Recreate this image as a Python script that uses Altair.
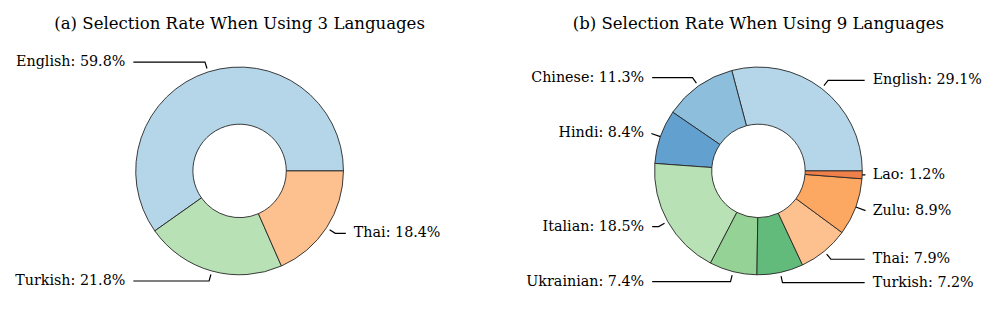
import altair as alt
import pandas as pd
import numpy as np

# ---- data ----
langs_a = ["English", "Turkish", "Thai"]
vals_a = [59.8, 21.8, 18.4]
colors_a = ["#b4d6e8", "#b8e2b5", "#fdc08f"]
title_a = "(a) Selection Rate When Using 3 Languages"

langs_b = ["English", "Chinese", "Hindi", "Italian", "Ukrainian", "Turkish", "Thai", "Zulu", "Lao"]
vals_b = [29.1, 11.3, 8.4, 18.5, 7.4, 7.2, 7.9, 8.9, 1.2]
colors_b = ["#b4d6e8", "#8dbfdd", "#62a1cf", "#b8e2b5", "#95d296", "#62bb7b",
            "#fdc08f", "#fda862", "#f0804a"]
title_b = "(b) Selection Rate When Using 9 Languages"

# ---- geometry / style ----
R = 104.5
INNER = 47
W = 456
H = 260
FONT = "DejaVu Serif"
BOX = 1.05      # inner edge of the (invisible) label box, in radii
SHRINK = 0.027  # line shrink, in radii


def panel(title, langs, vals, colors):
    vals = np.array(vals, dtype=float)
    total = vals.sum()
    df = pd.DataFrame({"lang": langs, "value": vals, "idx": range(len(langs))})

    mid = (np.cumsum(vals) - vals / 2) / total * 2 * np.pi
    c, s = np.cos(mid), np.sin(mid)
    side = np.where(c >= 0, 1.0, -1.0)
    labels = [f"{l}: {v:.1f}%" for l, v in zip(langs, vals)]

    lab = pd.DataFrame({"label": labels, "x": side * 1.1, "y": 1.1 * s, "side": side})

    rows = []
    for i, l in enumerate(langs):
        if abs(1.1 * c[i]) <= BOX - SHRINK:
            pts = [(side[i] * (BOX - SHRINK), 1.1 * s[i]),
                   (1.1 * c[i], 1.1 * s[i]),
                   ((1 + 1.3 * SHRINK) * c[i], (1 + 1.3 * SHRINK) * s[i])]
        else:
            rr = BOX / abs(c[i]) - 0.02
            pts = [(rr * c[i], rr * s[i]), (c[i], s[i])]
        for k, (px, py) in enumerate(pts):
            rows.append({"lang": l, "k": k, "x": px, "y": py})
    lines = pd.DataFrame(rows)

    xs = alt.Scale(domain=[-W / 2 / R, W / 2 / R])
    ys = alt.Scale(domain=[-H / 2 / R, H / 2 / R])

    arc = alt.Chart(df).mark_arc(radius=R, radius2=INNER, stroke="#262626",
                                 strokeWidth=0.9).encode(
        theta=alt.Theta("value:Q", stack=True,
                        scale=alt.Scale(range=[np.pi / 2, np.pi / 2 - 2 * np.pi])),
        color=alt.Color("lang:N", scale=alt.Scale(domain=langs, range=colors), legend=None),
        order=alt.Order("idx:Q", sort="ascending"),
    )

    lead = alt.Chart(lines).mark_line(color="black", strokeWidth=1.2).encode(
        x=alt.X("x:Q", scale=xs, axis=None),
        y=alt.Y("y:Q", scale=ys, axis=None),
        detail="lang:N",
        order="k:Q",
    )

    base_t = alt.Chart(lab).encode(
        x=alt.X("x:Q", scale=xs, axis=None),
        y=alt.Y("y:Q", scale=ys, axis=None),
        text="label:N",
    )
    t_right = base_t.transform_filter("datum.side > 0").mark_text(
        align="left", baseline="middle", font=FONT, fontSize=14.4, color="black")
    t_left = base_t.transform_filter("datum.side < 0").mark_text(
        align="right", baseline="middle", font=FONT, fontSize=14.4, color="black")

    return alt.layer(arc, lead, t_left, t_right).properties(
        width=W, height=H, title=title
    ).resolve_scale(color="independent", theta="independent")


pa = panel(title_a, langs_a, vals_a, colors_a)
pb = panel(title_b, langs_b, vals_b, colors_b)

chart = alt.hconcat(pa, pb, spacing=60).resolve_scale(
    color="independent", theta="independent", x="independent", y="independent"
).properties(
    padding={"left": 5, "right": 5, "top": 7, "bottom": 5}
).configure_view(stroke=None).configure_title(
    font=FONT, fontSize=16.67, fontWeight="normal", color="black", anchor="middle",
    offset=9
)

chart.save("out.html", embed_options={"renderer": "svg", "actions": False})
